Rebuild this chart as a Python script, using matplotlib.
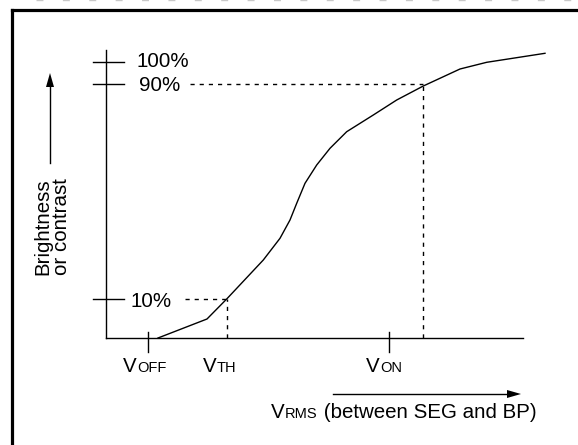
#!/usr/bin/python
# -*- coding: utf-8 -*-

"""
LCD electro-optical response: brightness vs. VRMS
"""

import matplotlib
matplotlib.use('Agg')
import matplotlib.pyplot as plt

# diagram units: origin at the axis corner, 1 unit = 1 px
curve_x = [52, 101, 120.7, 157.3, 174, 184, 190.7, 199, 210.7, 224, 240.7,
           267.3, 290.7, 317.3, 354, 380.7, 439]
curve_y = [0, 19, 39, 78, 99.7, 118, 134.7, 154.7, 173, 189.7, 206.3,
           223, 238, 252, 269, 275.7, 284.7]

level_labels = ['100%', '90%', '10%']
level_y = [276, 254, 39]

volt_names = [('V', 'OFF'), ('V', 'TH'), ('V', 'ON')]
volt_x = [42, 120.7, 283]
x90 = 317.3  # where the curve reaches 90%

BIG = 14.8
SMALL = 10.5
LW = 1.0


def main():
    fig = plt.figure(figsize=(5.78, 4.45), dpi=100)
    ax = fig.add_axes([0, 0, 1, 1])
    ax.set_xlim(-106, 472)
    ax.set_ylim(-107, 338)
    ax.axis('off')

    # frame (only top and left edges fall inside the picture)
    ax.plot([-94, 490], [328.5, 328.5], color='black', lw=2.3,
            solid_capstyle='projecting')
    ax.plot([-94, -94], [328.5, -120], color='black', lw=2.3,
            solid_capstyle='projecting')
    # faint remains of something above the frame
    ax.plot([-70, 472], [337.8, 337.8], color='#c8c8c8', lw=1.0,
            linestyle=(0, (5, 14)))

    # axes
    ax.plot([0, 0], [0, 288], color='black', lw=LW)
    ax.plot([0, 417], [0, 0], color='black', lw=LW)

    # brightness levels
    label_pos = {'100%': (30, 271.3), '90%': (33, 247), '10%': (24, 30.7)}
    for lab, ly in zip(level_labels, level_y):
        ax.plot([-13, 18], [ly, ly], color='black', lw=LW)
        lx, lb = label_pos[lab]
        ax.text(lx, lb, lab, fontsize=BIG, ha='left', va='baseline')

    # voltage ticks and labels
    junction = [31, 111, 274]
    for (big, small), vx, jx in zip(volt_names, volt_x, junction):
        if small != 'TH':
            ax.plot([vx, vx], [-14, 6], color='black', lw=LW)
        ax.text(jx, -34, big, fontsize=BIG, ha='right', va='baseline')
        ax.text(jx, -34, small, fontsize=SMALL, ha='left', va='baseline')

    # dashed guides
    dash = (0, (3, 3.6))
    ax.plot([79, volt_x[1]], [level_y[2], level_y[2]], color='black', lw=LW, linestyle=dash)
    ax.plot([volt_x[1], volt_x[1]], [0, level_y[2]], color='black', lw=LW, linestyle=dash)
    ax.plot([84, x90], [level_y[1], level_y[1]], color='black', lw=LW, linestyle=dash)
    ax.plot([x90, x90], [0, level_y[1]], color='black', lw=LW, linestyle=dash)

    # response curve
    ax.plot(curve_x, curve_y, color='black', lw=LW, solid_joinstyle='round')

    # arrows
    ax.plot([-56, -56], [175, 252], color='black', lw=LW)
    ax.fill([-60, -52, -56], [251, 251, 265], color='black', lw=0)
    ax.plot([227, 402], [-56, -56], color='black', lw=LW)
    ax.fill([401, 401, 415], [-60, -52, -56], color='black', lw=0)

    ax.text(-54, 111, 'Brightness\nor contrast', fontsize=BIG, rotation=90,
            ha='center', va='center', multialignment='center', linespacing=1.0)

    # x label: V + small RMS + rest
    ax.text(179, -80, 'V', fontsize=BIG, ha='right', va='baseline')
    t = ax.text(179, -80, 'RMS', fontsize=SMALL, ha='left', va='baseline')
    r = fig.canvas.get_renderer()
    bb = t.get_window_extent(r)
    x2 = ax.transData.inverted().transform((bb.x1, bb.y0))[0]
    ax.text(x2, -80, ' (between SEG and BP)', fontsize=BIG, ha='left', va='baseline')

    fig.savefig('out.png', dpi=100)


if __name__ == '__main__':
    plt.rcParams['font.family'] = ['Liberation Sans', 'DejaVu Sans']
    main()
